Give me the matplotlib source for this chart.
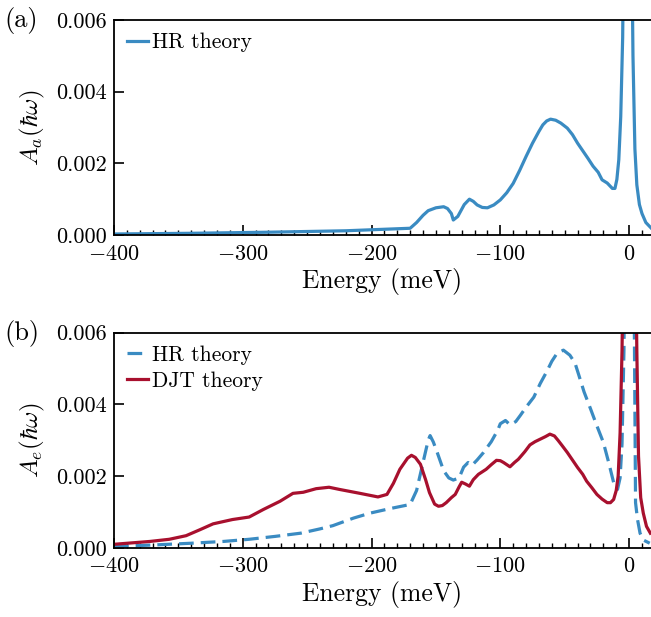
import numpy as np
import matplotlib
matplotlib.use("Agg")
import matplotlib.pyplot as plt
from matplotlib.ticker import MultipleLocator, FormatStrFormatter

plt.rcParams['font.family'] = ['cmr10', 'DejaVu Serif']
plt.rcParams['mathtext.fontset'] = 'cm'
plt.rcParams['axes.formatter.use_mathtext'] = True
plt.rcParams['axes.unicode_minus'] = True

blue = '#3a8bc2'
red = '#a8102e'

# (a) HR theory, A_a
e_a = [-400, -340, -280, -220, -170, -165, -160, -156, -150, -144, -141, -138, -136.5, -133,
       -128, -124, -121, -118, -114, -110, -105, -100, -95, -90, -85, -80, -75, -70, -67,
       -64, -61, -57, -53, -48, -44, -40, -36, -32, -28, -24, -21, -17, -13, -11, -9.5,
       -8, -6.5, -5, -4, -3, -2, -1, 0, 1, 2, 3, 4.5, 6, 8, 10, 13, 17]
a_hr = [0.00003, 0.00005, 0.00008, 0.00012, 0.00019, 0.00035, 0.00055, 0.00068, 0.00076, 0.00079,
        0.00074, 0.0006, 0.00042, 0.00052, 0.00085, 0.001, 0.00094, 0.00084, 0.00077, 0.00076,
        0.00084, 0.00098, 0.00118, 0.00144, 0.0018, 0.00219, 0.00256, 0.00289, 0.00307,
        0.00318, 0.00323, 0.0032, 0.00312, 0.00298, 0.0028, 0.00256, 0.00235, 0.00214, 0.00192,
        0.00175, 0.00154, 0.00145, 0.0013, 0.0013, 0.00155, 0.0021, 0.0033, 0.0055, 0.009,
        0.016, 0.025, 0.03, 0.025, 0.016, 0.0085, 0.005, 0.0024, 0.0014, 0.00085, 0.0006,
        0.00035, 0.0002]

# (b) HR theory and DJT theory, A_e
e_hr = [-400, -370, -340, -315, -295, -275, -255, -240, -230, -214, -201, -185, -170, -165,
        -160, -156, -154.5, -152, -149, -144, -140, -136.5, -132, -128.5, -125, -122, -118,
        -113, -107, -102, -100, -96, -92.5, -88, -84.5, -80, -74, -69, -64, -60, -56, -51,
        -46, -42, -39, -35, -30, -25, -20, -16, -12, -9, -7, -5.5, -4, -2.5, -1, 0.5, 2,
        3.5, 5, 6.5, 8.5, 11, 16]
hr_b = [0.00004, 0.00008, 0.00013, 0.00018, 0.00024, 0.00032, 0.00041, 0.00053, 0.00062, 0.00083,
        0.00097, 0.0011, 0.00121, 0.0016, 0.00238, 0.003, 0.00313, 0.00295, 0.00266, 0.00215,
        0.00195, 0.00189, 0.00195, 0.00225, 0.00238, 0.0023, 0.00245, 0.00266, 0.00296, 0.00328,
        0.00346, 0.00355, 0.00343, 0.00352, 0.00369, 0.00392, 0.0042, 0.00458, 0.00491, 0.0052,
        0.00542, 0.00551, 0.00537, 0.00515, 0.00481, 0.00435, 0.00388, 0.0034, 0.00294, 0.0024,
        0.00182, 0.00163, 0.00195, 0.0029, 0.0055, 0.012, 0.025, 0.03, 0.02, 0.009, 0.00126,
        0.0008, 0.00041, 0.00022, 0.00013]

e_djt = [-400, -372, -357, -344, -333, -323, -308, -295, -284, -271, -261, -253, -243, -233,
         -225, -209, -195, -188, -183, -178, -172, -169, -166, -162, -158, -155, -151, -148,
         -145, -142, -138, -135, -132, -130, -127, -124, -121, -117, -114, -111, -107, -103,
         -100, -97.5, -95, -92.5, -89, -86, -81, -77, -73, -69, -65, -61.5, -58, -55, -52,
         -48, -44, -40, -36, -33, -29, -25, -21, -17, -14.5, -12, -10, -8.5, -7, -5.5, -4,
         -2.5, -1, 0.5, 2, 3.5, 5, 6, 7.3, 9, 11, 13.5, 16.5]
djt_b = [0.0001, 0.00018, 0.00024, 0.00034, 0.00051, 0.00067, 0.00079, 0.00086, 0.00107, 0.0013,
         0.00152, 0.00155, 0.00165, 0.00169, 0.00163, 0.00152, 0.00142, 0.00149, 0.0018, 0.00219,
         0.0025, 0.00258, 0.00252, 0.00233, 0.0019, 0.00154, 0.00122, 0.00116, 0.00118, 0.00126,
         0.0014, 0.00149, 0.0017, 0.00183, 0.00178, 0.00172, 0.0019, 0.00205, 0.00212, 0.00219,
         0.00232, 0.00244, 0.00243, 0.00238, 0.00232, 0.00226, 0.00238, 0.00247, 0.00268,
         0.00287, 0.00296, 0.00303, 0.0031, 0.00317, 0.00312, 0.00299, 0.00285, 0.00266,
         0.00245, 0.00224, 0.00205, 0.00186, 0.00168, 0.00149, 0.00136, 0.00126, 0.00126,
         0.00135, 0.0016, 0.002, 0.0032, 0.0055, 0.0095, 0.016, 0.022, 0.024, 0.02, 0.014,
         0.0085, 0.0055, 0.00256, 0.0014, 0.00097, 0.0006, 0.00041]

fig = plt.figure(figsize=(6.51, 6.17), dpi=100)
ax1 = fig.add_axes([0.175, 0.619, 0.825, 0.349])
ax2 = fig.add_axes([0.175, 0.112, 0.825, 0.349])

ax1.plot(e_a, a_hr, color=blue, lw=2.3, label='HR theory')
ax2.plot(e_hr, hr_b, color=blue, lw=2.3, ls=(0, (4.6, 2.2)), label='HR theory')
ax2.plot(e_djt, djt_b, color=red, lw=2.3, label='DJT theory')

for ax, lab in [(ax1, r'$A_a(\hbar\omega)$'), (ax2, r'$A_e(\hbar\omega)$')]:
    ax.set_xlim(-400, 17)
    ax.set_ylim(0, 0.006)
    ax.xaxis.set_major_locator(MultipleLocator(100))
    ax.xaxis.set_minor_locator(MultipleLocator(10))
    ax.yaxis.set_major_locator(MultipleLocator(0.002))
    ax.yaxis.set_major_formatter(FormatStrFormatter('%.3f'))
    ax.tick_params(axis='both', which='both', direction='in', labelsize=16)
    ax.tick_params(axis='x', which='major', pad=6.5)
    ax.tick_params(axis='y', which='major', pad=5)
    ax.tick_params(which='major', length=7, width=1.2)
    ax.tick_params(which='minor', length=3.5, width=1.0)
    ax.spines['right'].set_visible(False)
    for s in ['left', 'top', 'bottom']:
        ax.spines[s].set_linewidth(1.3)
    ax.set_xlabel('Energy (meV)', fontsize=18.5, labelpad=3)
    ax.set_ylabel(lab, fontsize=18, labelpad=7)
    ax.legend(loc='upper left', frameon=False, fontsize=15.5, handlelength=1.0,
              handletextpad=0.15, borderaxespad=0.2, labelspacing=0.3)

fig.text(0.006, 0.966, '(a)', fontsize=19, va='center')
fig.text(0.006, 0.459, '(b)', fontsize=19, va='center')

fig.savefig('out.png', dpi=100)
